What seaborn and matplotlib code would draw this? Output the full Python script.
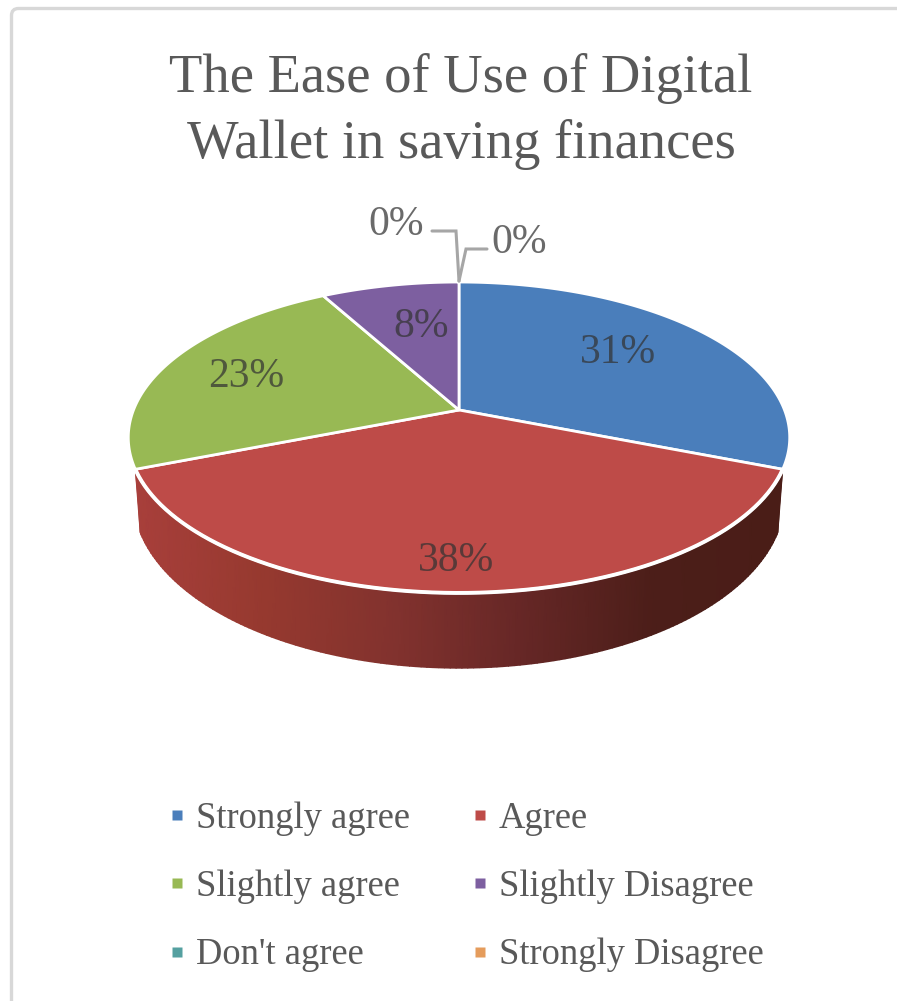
import numpy as np
import matplotlib
matplotlib.use("Agg")
import matplotlib.pyplot as plt
from matplotlib.colors import LinearSegmentedColormap
from matplotlib.lines import Line2D
from matplotlib.patches import FancyBboxPatch, Polygon
import seaborn as sns

# Survey answers and their shares in percent
categories = ["Strongly agree", "Agree", "Slightly agree",
              "Slightly Disagree", "Don't agree", "Strongly Disagree"]
shares = [31, 38, 23, 8, 0, 0]
title_lines = ["The Ease of Use of Digital", "Wallet in saving finances"]

slice_colors = ["#4a7ebb", "#be4b48", "#98b954", "#7d5fa0", "#55a0a0", "#e59c5c"]
wall_stops = ["#a83f3b", "#96392f", "#82322e", "#662726", "#4c1e19", "#4a1d17"]

sns.set_theme(style="white")
plt.rcParams["font.family"] = ["Liberation Serif", "DejaVu Serif"]
palette = sns.color_palette(slice_colors)
TEXT = "#595959"

fig = plt.figure(figsize=(8.97, 10.01), dpi=100)
ax = fig.add_axes([0, 0, 1, 1])
ax.set_xlim(0, 897)
ax.set_ylim(1001, 0)
ax.axis("off")

# Tilted disc: a projective map from the unit circle, so the pie's apex sits
# above the centre of the drawn ellipse.
APEX_X, APEX_Y = 459, 410
A, B, K = 325.5, 150.6, 0.1768


def rim(theta_deg):
    t = np.radians(theta_deg)
    u, v = np.sin(t), np.cos(t)
    w = 1 + K * v
    return A * u / w, -B * v / w


edges = 3.6 * np.concatenate([[0], np.cumsum(shares)])

# Chart frame
ax.add_patch(FancyBboxPatch((11.5, 8.5), 1000, 1100,
                            boxstyle="round,pad=0,rounding_size=7",
                            fc="white", ec="#d8d8d8", lw=2.4, zorder=0))

# Side wall below the largest slice, shaded from left to right
front = np.linspace(edges[1], edges[2], 160)
xf, yf = rim(front)
X = np.vstack([xf, xf * 0.985]) + APEX_X
Y = np.vstack([yf, yf * 1.097 + 57.5]) + APEX_Y
wall_cmap = LinearSegmentedColormap.from_list("wall", wall_stops)
shade = (X - X.min()) / (X.max() - X.min())
ax.pcolormesh(X, Y, shade, cmap=wall_cmap, shading="gouraud", zorder=1)

# Top face of the pie
for start, stop, colour in zip(edges[:-1], edges[1:], palette):
    if stop <= start:
        continue
    arc = np.linspace(start, stop, 120)
    xa, ya = rim(arc)
    pts = np.column_stack([np.r_[APEX_X, xa + APEX_X], np.r_[APEX_Y, ya + APEX_Y]])
    ax.add_patch(Polygon(pts, closed=True, fc=colour, ec="white", lw=2.0,
                         joinstyle="round", zorder=2))

# Brighter rim along the front of the disc
ax.plot(xf + APEX_X, yf + APEX_Y, color="white", lw=2.8, zorder=2.5)

# Value labels inside the slices
inside = {0: (618, 353), 1: (456, 561), 2: (246, 377), 3: (421, 327)}
for i, (x, y) in inside.items():
    ax.text(x, y, f"{shares[i]}%", ha="center", va="center", fontsize=30,
            color="#333333", alpha=0.72, zorder=3)

# Zero-share labels with their leader lines
outside = {4: (396, 225), 5: (519, 243)}
for i, (x, y) in outside.items():
    ax.text(x, y, f"{shares[i]}%", ha="center", va="center", fontsize=30,
            color="#6a6a6a", zorder=3)
ax.plot([432, 456, 459], [231, 231, 281], color="#a6a6a6", lw=2.2,
        solid_joinstyle="miter", zorder=3)
ax.plot([487, 466, 459], [249, 249, 281], color="#a6a6a6", lw=2.2,
        solid_joinstyle="miter", zorder=3)

# Title
ax.text(461, 79, title_lines[0], ha="center", va="center", fontsize=39.3, color=TEXT)
ax.text(461, 145, title_lines[1], ha="center", va="center", fontsize=39.3, color=TEXT)

# Legend, filled row by row across two columns
handles = [Line2D([], [], ls="none", marker="s", ms=6.5, mfc=c, mec="none",
                  label=name) for c, name in zip(palette, categories)]
order = [0, 2, 4, 1, 3, 5]
ax.legend([handles[i] for i in order], [categories[i] for i in order],
          ncols=2, frameon=False, fontsize=26.3, labelcolor=TEXT,
          loc="upper left", bbox_to_anchor=(168, 801),
          bbox_transform=ax.transData, borderpad=0, borderaxespad=0,
          handlelength=0.5, handletextpad=0.28, labelspacing=0.93,
          columnspacing=1.64)

fig.savefig("out.png", dpi=100)
